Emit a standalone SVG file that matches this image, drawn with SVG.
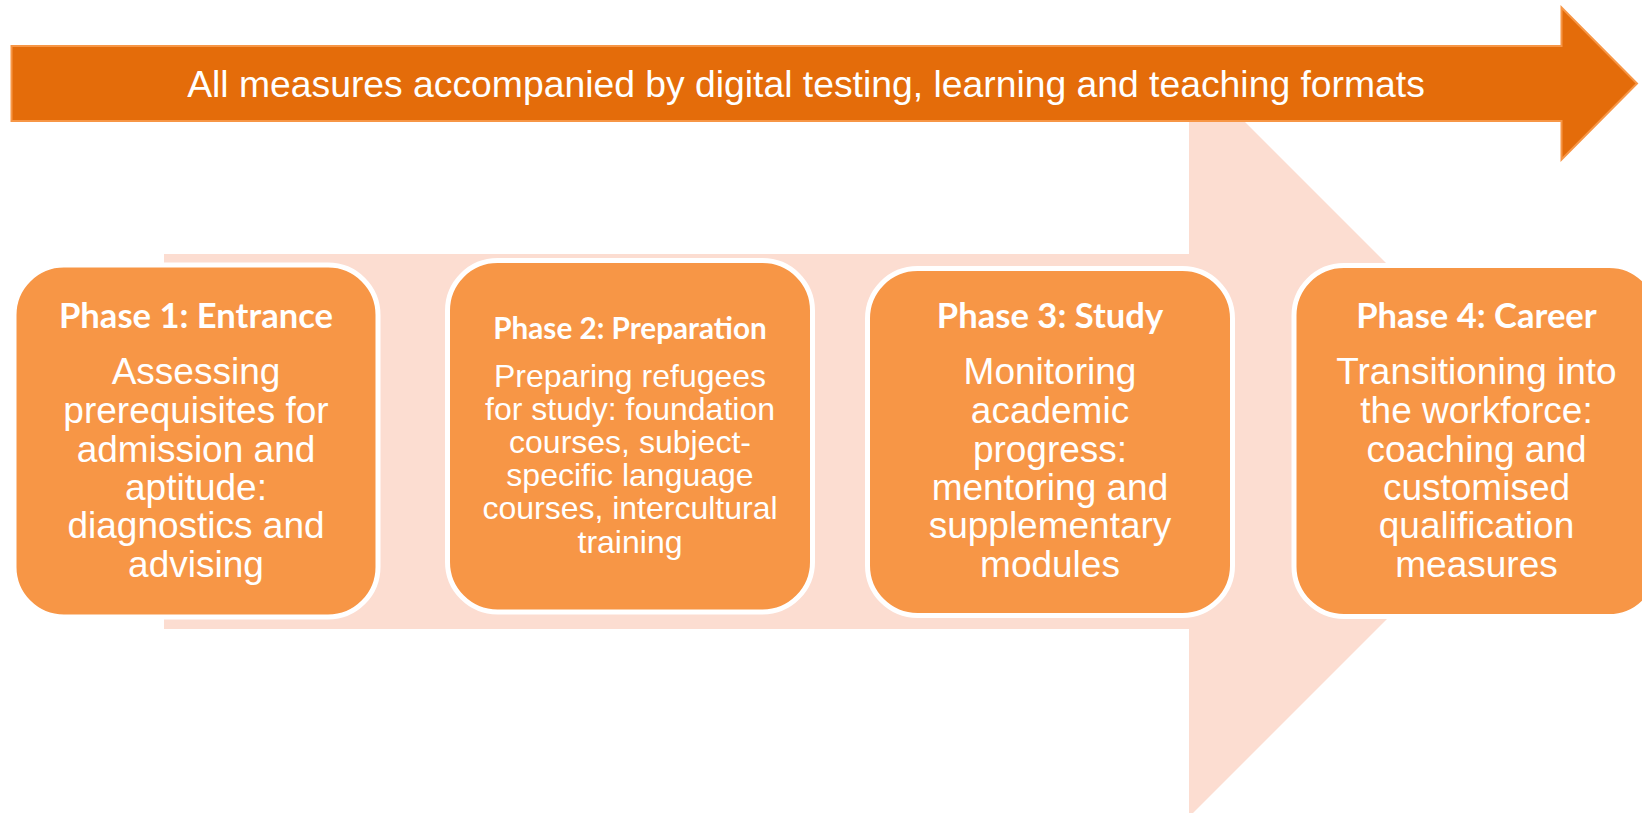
<svg xmlns="http://www.w3.org/2000/svg" width="1642" height="813" viewBox="0 0 1642 813">
<style>
.box{fill:#F79646;stroke:#FFFFFF;stroke-width:5}
.title{font-family:Lato,"Open Sans",sans-serif;font-weight:bold;fill:#FFFFFF;text-anchor:middle}
.body{font-family:"Liberation Sans",Arial,sans-serif;fill:#FFFFFF;text-anchor:middle;font-size:37px}
.body2{font-family:"Liberation Sans",Arial,sans-serif;fill:#FFFFFF;text-anchor:middle;font-size:32px}
</style>
<rect width="1642" height="813" fill="#FFFFFF"/>
<g id="background-arrow">
<polygon points="164,254 1189,254 1189,66 1564.5,441.5 1189,817 1189,629 164,629" fill="#FCDDD1"/>
</g>
<g id="top-arrow">
<polygon points="11.5,46 1561.5,46 1561.5,7.5 1637,83.5 1561.5,159.5 1561.5,121 11.5,121" fill="#E46C0A" stroke="#F79646" stroke-width="2"/>
<text x="806" y="97" font-family="'Liberation Sans',Arial,sans-serif" font-size="37.3" fill="#FFFFFF" text-anchor="middle">All measures accompanied by digital testing, learning and teaching formats</text>
</g>
<g id="connectors"></g>
<g id="phase1">
<rect class="box" x="14" y="265" width="364" height="352" rx="50" ry="50"/>
<text class="title" x="196" y="328" font-size="34.6">Phase 1: Entrance</text>
<text class="body" x="196" y="384">Assessing</text>
<text class="body" x="196" y="423">prerequisites for</text>
<text class="body" x="196" y="462">admission and</text>
<text class="body" x="196" y="500">aptitude:</text>
<text class="body" x="196" y="538">diagnostics and</text>
<text class="body" x="196" y="577">advising</text>
</g>
<g id="phase2">
<rect class="box" x="447.5" y="260.5" width="365" height="351.5" rx="50" ry="50"/>
<text class="title" x="630" y="339" font-size="29.7">Phase 2: Preparation</text>
<text class="body2" x="630" y="387">Preparing refugees</text>
<text class="body2" x="630" y="420">for study: foundation</text>
<text class="body2" x="630" y="453">courses, subject-</text>
<text class="body2" x="630" y="486">specific language</text>
<text class="body2" x="630" y="519">courses, intercultural</text>
<text class="body2" x="630" y="553">training</text>
</g>
<g id="phase3">
<rect class="box" x="867.5" y="268.5" width="365" height="347" rx="50" ry="50"/>
<text class="title" x="1050" y="328" font-size="34.6">Phase 3: Study</text>
<text class="body" x="1050" y="384">Monitoring</text>
<text class="body" x="1050" y="423">academic</text>
<text class="body" x="1050" y="462">progress:</text>
<text class="body" x="1050" y="500">mentoring and</text>
<text class="body" x="1050" y="538">supplementary</text>
<text class="body" x="1050" y="577">modules</text>
</g>
<g id="phase4">
<rect class="box" x="1294" y="265.5" width="365" height="351" rx="50" ry="50"/>
<text class="title" x="1476.5" y="328" font-size="34.6">Phase 4: Career</text>
<text class="body" x="1476.5" y="384">Transitioning into</text>
<text class="body" x="1476.5" y="423">the workforce:</text>
<text class="body" x="1476.5" y="462">coaching and</text>
<text class="body" x="1476.5" y="500">customised</text>
<text class="body" x="1476.5" y="538">qualification</text>
<text class="body" x="1476.5" y="577">measures</text>
</g>
</svg>
